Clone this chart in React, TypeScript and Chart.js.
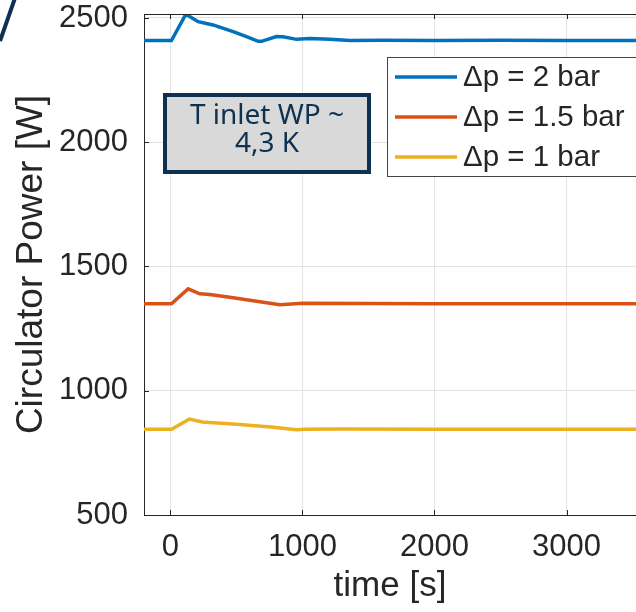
import React, { useEffect, useRef } from "react";
import { Chart, registerables } from "chart.js";

Chart.register(...registerables);

// ---- data ----
const timeDp2 = [-200, 8, 117, 210, 323, 475, 576, 665, 690, 803, 854, 955, 1056, 1208, 1359, 1586, 2000, 2500, 3000, 3600];
const powerDp2 = [2409, 2409, 2515, 2485, 2472, 2445, 2425, 2406, 2406, 2425, 2424, 2414, 2417, 2414, 2409, 2410, 2409, 2410, 2409, 2409];

const timeDp15 = [-200, 8, 134, 223, 298, 450, 652, 829, 1005, 1500, 2000, 3000, 3600];
const powerDp15 = [1350, 1350, 1410, 1390, 1387, 1376, 1360, 1346, 1352, 1351, 1350, 1350, 1350];

const timeDp1 = [-200, 9, 144, 242, 501, 760, 955, 1019, 1278, 2000, 3000, 3600];
const powerDp1 = [845, 845, 886, 874, 865, 854, 843, 845, 846, 845, 845, 845];

const seriesLabels = ["\u0394p = 2 bar", "\u0394p = 1.5 bar", "\u0394p = 1 bar"];
const seriesColors = ["#0072BD", "#D95319", "#EDB120"];
const xTickValues = [0, 1000, 2000, 3000];
const yTickValues = [500, 1000, 1500, 2000, 2500];
const xTitle = "time [s]";
const yTitle = "Circulator Power [W]";
const noteLines = ["T inlet WP ~", "4,3 K"];

const AXIS = "#262626";
const NAVY = "#0e3152";
const FONT = "'Liberation Sans', Arial, sans-serif";

const toPoints = (xs: number[], ys: number[]) => xs.map((x, i) => ({ x, y: ys[i] }));

const overlay = {
  id: "overlay",
  afterDraw(chart: any) {
    const ctx = chart.ctx;
    const a = chart.chartArea;
    const xs = chart.scales.x;
    const ys = chart.scales.y;
    ctx.save();
    // box top line
    ctx.strokeStyle = AXIS;
    ctx.lineWidth = 1;
    ctx.beginPath();
    ctx.moveTo(a.left, Math.round(a.top) + 0.5);
    ctx.lineTo(a.right, Math.round(a.top) + 0.5);
    ctx.stroke();
    // inward tick marks
    ctx.beginPath();
    xs.ticks.forEach((t: any) => {
      const p = Math.round(xs.getPixelForValue(t.value)) + 0.5;
      ctx.moveTo(p, a.bottom);
      ctx.lineTo(p, a.bottom - 5);
      ctx.moveTo(p, a.top);
      ctx.lineTo(p, a.top + 5);
    });
    ys.ticks.forEach((t: any) => {
      const p = Math.round(ys.getPixelForValue(t.value)) + 0.5;
      ctx.moveTo(a.left, p);
      ctx.lineTo(a.left + 5, p);
    });
    ctx.stroke();

    // legend
    const lx = 387.5, ly = 57.5, lw = 260, lh = 119;
    ctx.fillStyle = "#ffffff";
    ctx.fillRect(lx, ly, lw, lh);
    ctx.strokeStyle = "#444444";
    ctx.lineWidth = 1;
    ctx.strokeRect(lx, ly, lw, lh);
    ctx.font = `29.5px ${FONT}`;
    ctx.textBaseline = "middle";
    ctx.textAlign = "left";
    seriesLabels.forEach((lab, i) => {
      const y = 77 + i * 40;
      ctx.strokeStyle = seriesColors[i];
      ctx.lineWidth = 3.5;
      ctx.beginPath();
      ctx.moveTo(395, y);
      ctx.lineTo(457, y);
      ctx.stroke();
      ctx.fillStyle = AXIS;
      ctx.fillText(lab, 463, y + 1);
    });

    // annotation box
    ctx.fillStyle = "#d9d9d9";
    ctx.fillRect(165, 95, 204, 77);
    ctx.strokeStyle = NAVY;
    ctx.lineWidth = 4;
    ctx.strokeRect(165, 95, 204, 77);
    ctx.fillStyle = NAVY;
    ctx.font = `28px 'Noto Sans', sans-serif`;
    ctx.textAlign = "center";
    ctx.textBaseline = "middle";
    noteLines.forEach((s, i) => ctx.fillText(s, 267, 116 + i * 28));

    // corner slash
    ctx.strokeStyle = NAVY;
    ctx.lineWidth = 4;
    ctx.beginPath();
    ctx.moveTo(15, -2);
    ctx.lineTo(0, 41);
    ctx.stroke();
    ctx.restore();
  },
};

export default function App() {
  const ref = useRef<HTMLCanvasElement>(null);
  useEffect(() => {
    if (!ref.current) return;
    const chart = new Chart(ref.current, {
      type: "line",
      data: {
        datasets: [
          { label: seriesLabels[0], data: toPoints(timeDp2, powerDp2), borderColor: seriesColors[0] },
          { label: seriesLabels[1], data: toPoints(timeDp15, powerDp15), borderColor: seriesColors[1] },
          { label: seriesLabels[2], data: toPoints(timeDp1, powerDp1), borderColor: seriesColors[2] },
        ].map((d) => ({ ...d, borderWidth: 3.5, pointRadius: 0, tension: 0, fill: false })),
      },
      options: {
        responsive: false,
        animation: false,
        events: [],
        layout: { padding: { top: 14, left: 0, right: 0, bottom: 0 } },
        plugins: { legend: { display: false }, tooltip: { enabled: false } },
        scales: {
          x: {
            type: "linear",
            min: -200,
            max: 3526,
            afterBuildTicks: (s: any) => {
              s.ticks = xTickValues.map((v) => ({ value: v }));
            },
            afterFit: (s: any) => {
              s.height = 97;
              s.paddingLeft = 0;
              s.paddingRight = 0;
            },
            grid: { color: "#e3e3e3", lineWidth: 1, drawTicks: false },
            border: { display: true, color: AXIS, width: 1 },
            ticks: {
              autoSkip: false,
              maxRotation: 0,
              padding: 14,
              color: AXIS,
              font: { family: FONT, size: 31, lineHeight: 1.2 },
              callback: (v: any) => String(v),
            },
            title: {
              display: true,
              text: xTitle,
              color: AXIS,
              font: { family: FONT, size: 35, lineHeight: 1 },
              padding: { top: 0, bottom: 8 },
            },
          },
          y: {
            type: "linear",
            min: 500,
            max: 2516,
            afterBuildTicks: (s: any) => {
              s.ticks = yTickValues.map((v) => ({ value: v }));
            },
            afterFit: (s: any) => {
              s.width = 144;
              s.paddingTop = 0;
              s.paddingBottom = 0;
            },
            grid: { color: "#e3e3e3", lineWidth: 1, drawTicks: false },
            border: { display: true, color: AXIS, width: 1 },
            ticks: {
              autoSkip: false,
              padding: 16,
              color: AXIS,
              font: { family: FONT, size: 31, lineHeight: 1.2 },
              callback: (v: any) => String(v),
            },
            title: {
              display: true,
              text: yTitle,
              color: AXIS,
              font: { family: FONT, size: 37, lineHeight: 1 },
              padding: { top: 13, bottom: 0 },
            },
          },
        },
      },
      plugins: [overlay],
    });
    return () => chart.destroy();
  }, []);
  return (
    <div style={{ position: "fixed", left: 0, top: 0, width: 636, height: 612, background: "#fff", overflow: "hidden" }}>
      <canvas ref={ref} width={636} height={612} style={{ width: 636, height: 612, display: "block" }} />
    </div>
  );
}
